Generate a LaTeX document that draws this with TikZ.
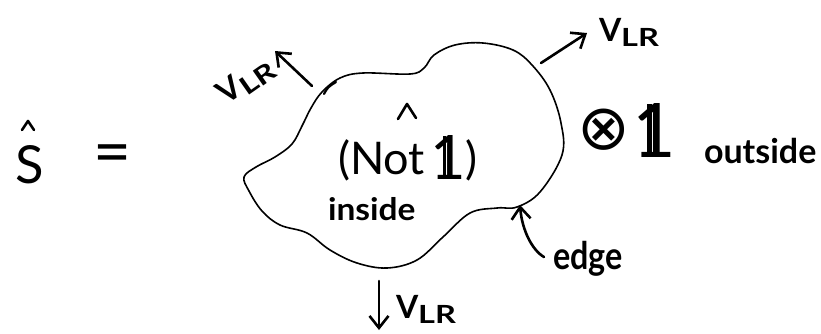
\documentclass[tikz,border=0pt]{standalone}
\usepackage{fontspec}
\setmainfont{Lato}
\newfontfamily\symfont{DejaVu Sans}
\usetikzlibrary{arrows.meta}

\newcommand\fs[1]{\fontsize{#1}{#1}\selectfont}
% big glyphs: set at 30pt, then enlarged by the given factor
\newcommand\enlarged[2]{\scalebox{#1}{\fs{30}#2}}
% V with subscript-like LR, as used on the three velocity labels
\newcommand\VLRlabel{\bfseries{\fs{32}V}\raisebox{-5pt}{\scalebox{1.3}[1]{\fs{25}LR}}}
% a double-struck one: a 1 with a second stem beside it
\newcommand\dsone{\mbox{\fs{30}\rlap{1}\kern0.2em\rule{0.06em}{0.7em}\kern0.28em}}

\begin{document}
\begin{tikzpicture}[x=1pt,y=-1pt,
  outline/.style={line width=1.6pt, line join=round},
  hand/.style={line width=2.6pt, line cap=round, line join=round},
  arr/.style={hand, -{Straight Barb[length=12pt,width=19pt,line width=2.6pt]}},
  lbl/.style={inner sep=0pt, outer sep=0pt, anchor=base west},
]
\useasboundingbox (0,0) rectangle (821,333);

% left-hand side: S-hat =
\node[lbl] (S) at (15,183) {\resizebox{!}{38pt}{\fs{30}S}};
\draw[hand] (22,130) -- (28,121) -- (34,130);
\node[inner sep=0pt] (eq) at (113,160) {\resizebox{38pt}{!}{\fs{30}=}};

% the region
\draw[outline] plot[smooth cycle, tension=0.6] coordinates {
  (340,78) (363,73) (410,74) (424,68) (434,55) (455,45) (483,43)
  (513,50) (532,65) (550,90) (561,123) (562,155) (540,192) (517,207)
  (497,208) (470,213) (443,237) (417,260) (387,268) (357,263)
  (330,250) (307,233) (280,225) (262,211) (249,191) (244,177)
  (256,167) (275,157) (292,144) (302,126) (311,108) (322,92)};
\draw[line width=2.2pt, line cap=round] (324,94) .. controls (328,87) .. (336,82);

% points on the boundary where arrows leave
\coordinate (tlS) at (312,86);
\coordinate (tlE) at (275,51);
\coordinate (trS) at (541,63);
\coordinate (trE) at (587,33);
\coordinate (btS) at (379,281);
\coordinate (btE) at (379,330);
\coordinate (edS) at (544,257);
\coordinate (edE) at (520,205);

% inside labels
\node[lbl] (notone) at (338,174)
  {\enlarged{1.5}{(Not\kern0.12em}\raisebox{-5pt}{\resizebox{!}{44pt}{\dsone}}\kern2pt\enlarged{1.5}{)}};
\draw[hand] (398,119) -- (407,104) -- (416,118);
\node[lbl] (inside) at (328,220) {\bfseries\scalebox{1.08}[1]{\fs{31}inside}};

% outside labels
\node[inner sep=0pt] (otimes) at (604,130) {\scalebox{2.1}{\symfont\fs{30}⊗}};
\node[lbl] (one) at (632,157) {\resizebox{!}{54pt}{\dsone}};
\node[lbl] (outside) at (704,163) {\bfseries\fs{34}outside};
\node[lbl] (edge) at (553,269) {\bfseries\scalebox{0.85}[1]{\fs{38}edge}};

% velocity arrows and their labels
\draw[arr] (tlS) -- (tlE);
\node[inner sep=0pt, rotate=35] (vtl) at (246,81) {\VLRlabel};
\draw[arr] (trS) -- (trE);
\node[lbl] (vtr) at (599,41) {\VLRlabel};
\draw[arr] (btS) -- (btE);
\node[lbl] (vbt) at (396,318) {\VLRlabel};

% pointer to the boundary
\draw[arr] (edS) .. controls (532,250) and (522,230) .. (edE);
\end{tikzpicture}
\end{document}
